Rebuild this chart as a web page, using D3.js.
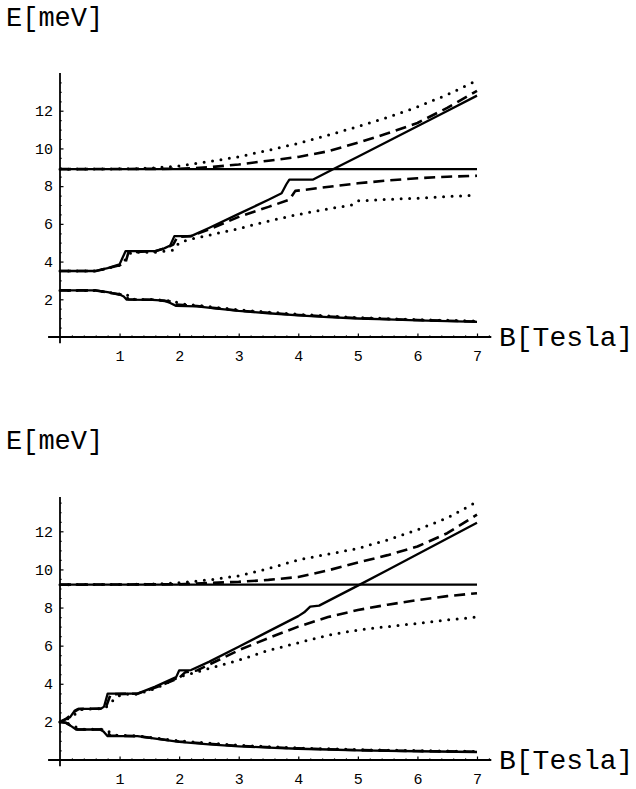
<!DOCTYPE html>
<html>
<head>
<meta charset="utf-8">
<script src="https://cdnjs.cloudflare.com/ajax/libs/d3/7.8.5/d3.min.js"></script>
<style>
  body { margin: 0; background: #fff; }
  text { font-family: "Liberation Mono", "Courier New", monospace; fill: #000; }
</style>
</head>
<body>
<script>
'use strict';

// tick values shared by both panels
const xTickValues = [1, 2, 3, 4, 5, 6, 7];
const yTickValues = [2, 4, 6, 8, 10, 12];

// ---- upper panel, curves as [B, E] pairs ----
const topLevel = [[0, 8.9], [7, 8.9]];
const topSolidLow = [[0, 2.47], [0.6, 2.47], [0.8, 2.38], [1.0, 2.25], [1.07, 2.15], [1.12, 1.98], [1.55, 1.97], [1.75, 1.93], [1.85, 1.8], [1.95, 1.65], [2.3, 1.62], [2.6, 1.52], [3, 1.38], [3.5, 1.26], [4, 1.15], [4.5, 1.05], [5, 0.98], [5.5, 0.93], [6, 0.88], [6.5, 0.84], [7, 0.8]];
const topSolidMid = [[0, 3.5], [0.6, 3.5], [0.8, 3.65], [1.0, 3.85], [1.05, 4.2], [1.1, 4.55], [1.6, 4.55], [1.75, 4.7], [1.85, 4.85], [1.92, 5.35], [2.2, 5.35], [2.5, 5.78], [3, 6.53], [3.5, 7.28], [3.72, 7.62], [3.8, 8.1], [3.85, 8.35], [4.25, 8.35], [4.6, 8.92], [5, 9.56], [5.5, 10.37], [6, 11.18], [6.5, 11.99], [7, 12.8]];
const topDashLow = [[0, 2.47], [0.6, 2.47], [1.0, 2.26], [1.1, 2.2], [1.15, 2.0], [1.6, 1.97], [1.85, 1.88], [1.95, 1.72], [2.3, 1.64], [3, 1.4], [4, 1.17], [5, 1.0], [6, 0.9], [7, 0.82]];
const topDashMid = [[0, 3.5], [0.6, 3.5], [1.0, 3.8], [1.1, 3.95], [1.15, 4.5], [1.6, 4.55], [1.8, 4.75], [1.9, 4.9], [1.97, 5.3], [2.2, 5.35], [2.5, 5.7], [3, 6.37], [3.5, 6.9], [3.85, 7.28], [3.95, 7.75], [4.1, 7.8], [4.6, 8.0], [5, 8.15], [5.5, 8.3], [6, 8.42], [6.5, 8.5], [7, 8.55]];
const topDashUp = [[0, 8.9], [2, 8.92], [2.5, 9.0], [3, 9.15], [3.5, 9.35], [4, 9.55], [4.5, 9.85], [5, 10.3], [5.5, 10.8], [6, 11.35], [6.5, 12.15], [7, 13.05]];
const topDotLow = [[0, 2.47], [0.6, 2.47], [1.0, 2.28], [1.15, 2.2], [1.2, 2.0], [1.6, 1.98], [1.9, 1.9], [2.05, 1.75], [2.3, 1.68], [3, 1.44], [4, 1.2], [5, 1.03], [6, 0.92], [7, 0.85]];
const topDotMid = [[0, 3.5], [0.6, 3.5], [1.0, 3.8], [1.07, 4.0], [1.12, 4.2], [1.2, 4.5], [1.6, 4.5], [1.9, 4.6], [2.0, 5.0], [2.2, 5.2], [2.5, 5.4], [3, 5.75], [3.5, 6.15], [4, 6.5], [4.6, 6.85], [4.9, 7.0], [5, 7.22], [5.5, 7.3], [6, 7.36], [6.5, 7.45], [7, 7.52]];
const topDotUp = [[0, 8.9], [1.2, 8.92], [1.5, 8.95], [2, 9.07], [2.5, 9.3], [3, 9.56], [3.5, 9.9], [4, 10.27], [4.5, 10.7], [5, 11.16], [5.5, 11.65], [6, 12.2], [6.5, 12.85], [7, 13.6]];

// ---- lower panel ----
const botLevel = [[0, 9.2], [7, 9.2]];
const botSolidLow = [[0, 2.0], [0.1, 1.95], [0.2, 1.75], [0.27, 1.6], [0.67, 1.6], [0.73, 1.5], [0.8, 1.25], [1.3, 1.25], [1.6, 1.12], [2, 0.95], [2.5, 0.82], [3, 0.72], [3.5, 0.65], [4, 0.59], [4.5, 0.55], [5, 0.51], [6, 0.46], [7, 0.42]];
const botSolidMid = [[0, 2.0], [0.1, 2.15], [0.17, 2.25], [0.25, 2.6], [0.3, 2.68], [0.68, 2.68], [0.74, 2.8], [0.8, 3.48], [1.3, 3.48], [1.6, 3.85], [1.95, 4.35], [2.0, 4.7], [2.2, 4.72], [2.5, 5.15], [3, 5.94], [3.5, 6.75], [4, 7.55], [4.1, 7.75], [4.2, 8.05], [4.35, 8.1], [5, 9.15], [5.5, 9.97], [6, 10.8], [6.5, 11.62], [7, 12.45]];
const botDashLow = [[0, 2.0], [0.1, 1.95], [0.22, 1.72], [0.3, 1.6], [0.7, 1.6], [0.78, 1.48], [0.85, 1.28], [1.3, 1.25], [2, 0.97], [3, 0.74], [4, 0.61], [5, 0.52], [6, 0.47], [7, 0.43]];
const botDashMid = [[0, 2.0], [0.1, 2.15], [0.25, 2.55], [0.32, 2.68], [0.7, 2.7], [0.78, 2.85], [0.85, 3.45], [1.3, 3.48], [1.6, 3.8], [2.0, 4.3], [2.1, 4.6], [2.3, 4.7], [2.5, 5.0], [3, 5.76], [3.5, 6.4], [4, 7.0], [4.5, 7.5], [5, 7.87], [5.5, 8.15], [6, 8.39], [6.5, 8.6], [7, 8.75]];
const botDashUp = [[0, 9.2], [2, 9.22], [3, 9.35], [3.5, 9.45], [4, 9.6], [4.5, 9.95], [5, 10.36], [5.5, 10.75], [6, 11.2], [6.5, 11.9], [7, 12.87]];
const botDotLow = [[0, 2.0], [0.1, 1.97], [0.25, 1.75], [0.35, 1.62], [0.7, 1.62], [0.85, 1.45], [0.95, 1.3], [1.3, 1.27], [2, 1.0], [3, 0.77], [4, 0.63], [5, 0.54], [6, 0.49], [7, 0.45]];
const botDotMid = [[0, 2.0], [0.1, 2.1], [0.3, 2.5], [0.35, 2.65], [0.75, 2.7], [0.85, 3.0], [0.95, 3.3], [1.05, 3.45], [1.3, 3.45], [1.6, 3.75], [2, 4.36], [2.5, 4.8], [3, 5.24], [3.5, 5.75], [4, 6.15], [4.5, 6.55], [5, 6.82], [5.5, 7.0], [6, 7.17], [6.5, 7.35], [7, 7.5]];
const botDotUp = [[0, 9.2], [1.5, 9.22], [2, 9.3], [2.5, 9.45], [3, 9.66], [3.5, 10.05], [4, 10.5], [4.5, 10.8], [5, 11.1], [5.5, 11.55], [6, 12.08], [6.5, 12.7], [7, 13.55]];

(function() {

  let svgContainer = "";

  // line styles used in the figure
  const styles = {
    solid:  { width: 2.3, dash: null, cap: 'butt' },
    dashed: { width: 2.6, dash: '11,6', cap: 'butt' },
    dotted: { width: 3.0, dash: '0,8.5', cap: 'round' }
  };

  window.onload = function() {
    svgContainer = d3.select('body')
      .append('svg')
      .attr('width', 636)
      .attr('height', 789);

    // upper panel
    makePanel({
      yMax: 14, yBottom: 337, yTop: 73, labelBase: 26,
      curves: [
        [topLevel, 'solid'], [topSolidLow, 'solid'], [topSolidMid, 'solid'],
        [topDashLow, 'dashed'], [topDashMid, 'dashed'], [topDashUp, 'dashed'],
        [topDotLow, 'dotted'], [topDotMid, 'dotted'], [topDotUp, 'dotted']
      ]
    });

    // lower panel
    makePanel({
      yMax: 13.8, yBottom: 760, yTop: 497, labelBase: 449,
      curves: [
        [botLevel, 'solid'], [botSolidLow, 'solid'], [botSolidMid, 'solid'],
        [botDashLow, 'dashed'], [botDashMid, 'dashed'], [botDashUp, 'dashed'],
        [botDotLow, 'dotted'], [botDotMid, 'dotted'], [botDotUp, 'dotted']
      ]
    });
  }

  // one plot: axes, ticks, labels and curves
  function makePanel(p) {
    let xScale = d3.scaleLinear().domain([0, 7]).range([60, 477]);
    let yScale = d3.scaleLinear().domain([0, p.yMax]).range([p.yBottom, p.yTop]);

    let g = svgContainer.append('g');

    // curves
    let line = d3.line()
      .x(d => xScale(d[0]))
      .y(d => yScale(d[1]));

    p.curves.forEach(c => {
      let s = styles[c[1]];
      g.append('path')
        .datum(c[0])
        .attr('d', line)
        .attr('fill', 'none')
        .attr('stroke', '#000')
        .attr('stroke-width', s.width)
        .attr('stroke-linecap', s.cap)
        .attr('stroke-linejoin', 'round')
        .attr('stroke-dasharray', s.dash);
    });

    // axis lines, crossing at the origin
    g.append('line')
      .attr('x1', xScale(-0.2)).attr('x2', xScale(7.24))
      .attr('y1', yScale(0)).attr('y2', yScale(0))
      .attr('stroke', '#000').attr('stroke-width', 1.8);
    g.append('line')
      .attr('x1', xScale(0)).attr('x2', xScale(0))
      .attr('y1', yScale(-0.33)).attr('y2', yScale(p.yMax))
      .attr('stroke', '#000').attr('stroke-width', 1.8);

    // minor ticks
    let xMinor = d3.range(1, 37).map(i => i * 0.2).filter(v => Math.abs(v - Math.round(v)) > 0.01);
    let yMinor = d3.range(1, Math.floor(p.yMax * 2) + 1).map(i => i * 0.5).filter(v => v % 2 !== 0);

    let xMinorAxis = d3.axisBottom(xScale).tickValues(xMinor).tickSize(-1.6).tickFormat('');
    let yMinorAxis = d3.axisLeft(yScale).tickValues(yMinor).tickSize(-1.6).tickFormat('');

    styleAxis(g.append('g').attr('transform', `translate(0, ${yScale(0)})`).call(xMinorAxis));
    styleAxis(g.append('g').attr('transform', `translate(${xScale(0)}, 0)`).call(yMinorAxis));

    // major ticks with labels
    let xAxis = d3.axisBottom(xScale).tickValues(xTickValues).tickSize(-3.5).tickPadding(13).tickFormat(d3.format('d'));
    let yAxis = d3.axisLeft(yScale).tickValues(yTickValues).tickSize(-3.5).tickPadding(7).tickFormat(d3.format('d'));

    styleAxis(g.append('g').attr('transform', `translate(0, ${yScale(0)})`).call(xAxis));
    styleAxis(g.append('g').attr('transform', `translate(${xScale(0)}, 0)`).call(yAxis));

    // axis titles
    g.append('text')
      .attr('x', 6)
      .attr('y', p.labelBase)
      .style('font-size', '27px')
      .text('E[meV]');

    g.append('text')
      .attr('x', 499)
      .attr('y', yScale(0) + 9)
      .style('font-size', '28px')
      .text('B[Tesla]');
  }

  // Mathematica look for the d3 axes
  function styleAxis(sel) {
    sel.select('.domain').remove();
    sel.selectAll('.tick line')
      .attr('stroke', '#000')
      .attr('stroke-width', 1.2);
    sel.selectAll('.tick text')
      .attr('fill', '#000')
      .style('font-family', '"Liberation Mono", "Courier New", monospace')
      .style('font-size', '15px');
  }

})();
</script>
</body>
</html>
